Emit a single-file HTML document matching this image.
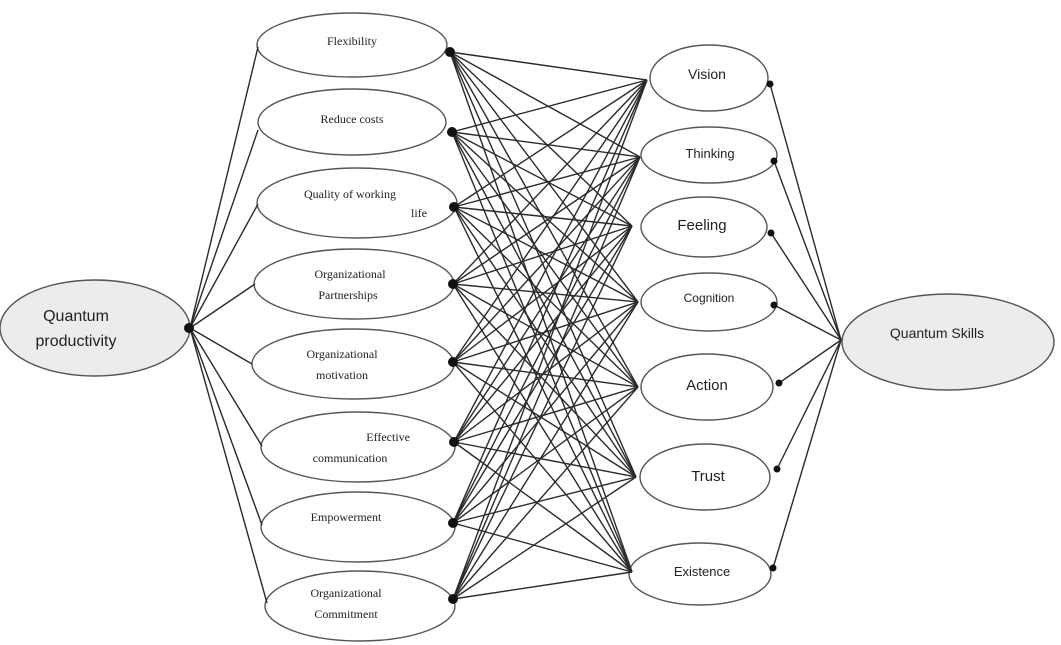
<!DOCTYPE html>
<html><head><meta charset="utf-8">
<style>
html,body{margin:0;padding:0;background:#fff;}
svg{display:block;}
.s{font-family:"Liberation Serif",serif;font-size:12px;fill:#222;}
.a{font-family:"Liberation Sans",sans-serif;fill:#222;}
</style></head>
<body>
<svg id="g" width="1061" height="645" viewBox="0 0 1061 645" xmlns="http://www.w3.org/2000/svg">
<g fill="none" stroke="#555" stroke-width="1.4">
<ellipse cx="352" cy="45" rx="95" ry="32" fill="#fff"/>
<ellipse cx="352" cy="122" rx="94" ry="33" fill="#fff"/>
<ellipse cx="357" cy="203" rx="100" ry="35" fill="#fff"/>
<ellipse cx="354" cy="284" rx="100" ry="35" fill="#fff"/>
<ellipse cx="353" cy="364" rx="101" ry="35" fill="#fff"/>
<ellipse cx="358" cy="447" rx="97" ry="35" fill="#fff"/>
<ellipse cx="358" cy="527" rx="97" ry="35" fill="#fff"/>
<ellipse cx="360" cy="606" rx="95" ry="35" fill="#fff"/>
<ellipse cx="95" cy="328" rx="95" ry="48" fill="#ececec"/>
<ellipse cx="709" cy="78" rx="59" ry="33" fill="#fff"/>
<ellipse cx="709" cy="155" rx="68" ry="28" fill="#fff"/>
<ellipse cx="704" cy="227" rx="63" ry="30" fill="#fff"/>
<ellipse cx="709" cy="302" rx="68" ry="29" fill="#fff"/>
<ellipse cx="707" cy="387" rx="66" ry="33" fill="#fff"/>
<ellipse cx="705" cy="477" rx="65" ry="33" fill="#fff"/>
<ellipse cx="700" cy="574" rx="71" ry="31" fill="#fff"/>
<ellipse cx="948" cy="342" rx="106" ry="48" fill="#ececec"/>
</g>
<g id="lines" stroke="#2a2a2a" stroke-width="1.4" fill="none"></g>
<g id="dots" fill="#111"></g>
<text class="s" x="352" y="45" text-anchor="middle">Flexibility</text>
<text class="s" x="352" y="123" text-anchor="middle">Reduce costs</text>
<text class="s" x="350" y="198" text-anchor="middle">Quality of working</text>
<text class="s" x="427" y="217" text-anchor="end">life</text>
<text class="s" x="350" y="278" text-anchor="middle">Organizational</text>
<text class="s" x="348" y="299" text-anchor="middle">Partnerships</text>
<text class="s" x="342" y="358" text-anchor="middle">Organizational</text>
<text class="s" x="342" y="379" text-anchor="middle">motivation</text>
<text class="s" x="410" y="441" text-anchor="end">Effective</text>
<text class="s" x="350" y="462" text-anchor="middle">communication</text>
<text class="s" x="346" y="521" text-anchor="middle">Empowerment</text>
<text class="s" x="346" y="597" text-anchor="middle">Organizational</text>
<text class="s" x="346" y="618" text-anchor="middle">Commitment</text>
<text class="a" x="76" y="321" text-anchor="middle" font-size="16">Quantum</text>
<text class="a" x="76" y="346" text-anchor="middle" font-size="16">productivity</text>
<text class="a" x="707" y="79" text-anchor="middle" font-size="14">Vision</text>
<text class="a" x="710" y="158" text-anchor="middle" font-size="13">Thinking</text>
<text class="a" x="702" y="230" text-anchor="middle" font-size="15">Feeling</text>
<text class="a" x="709" y="302" text-anchor="middle" font-size="12">Cognition</text>
<text class="a" x="707" y="390" text-anchor="middle" font-size="15">Action</text>
<text class="a" x="708" y="481" text-anchor="middle" font-size="15">Trust</text>
<text class="a" x="702" y="576" text-anchor="middle" font-size="13">Existence</text>
<text class="a" x="937" y="338" text-anchor="middle" font-size="14">Quantum Skills</text>
</svg>
<script>
var NS="http://www.w3.org/2000/svg";
var L=document.getElementById("lines"),D=document.getElementById("dots");
function line(a,b,c,d){var e=document.createElementNS(NS,"line");e.setAttribute("x1",a);e.setAttribute("y1",b);e.setAttribute("x2",c);e.setAttribute("y2",d);L.appendChild(e);}
function dot(x,y,r){var e=document.createElementNS(NS,"circle");e.setAttribute("cx",x);e.setAttribute("cy",y);e.setAttribute("r",r);D.appendChild(e);}
var lEnd=[[258,47],[258,130],[258,204],[255,284],[252,364],[262,446],[262,525],[267,603]];
var lDot=[[450,52],[452,132],[454,207],[453,284],[453,362],[454,442],[453,523],[453,599]];
var rEnd=[[647,80],[640,157],[632,226],[638,302],[638,387],[636,477],[632,572]];
var rDot=[[770,84],[774,161],[771,233],[774,305],[779,383],[777,469],[773,568]];
var hub=[190,328],hub2=[841,340];
lEnd.forEach(function(p){line(hub[0],hub[1],p[0],p[1]);});
lDot.forEach(function(p){rEnd.forEach(function(q){line(p[0],p[1],q[0],q[1]);});dot(p[0],p[1],5);});
rDot.forEach(function(p){line(hub2[0],hub2[1],p[0],p[1]);dot(p[0],p[1],3.5);});
dot(hub[0]-1,hub[1],5);
</script>
</body></html>
